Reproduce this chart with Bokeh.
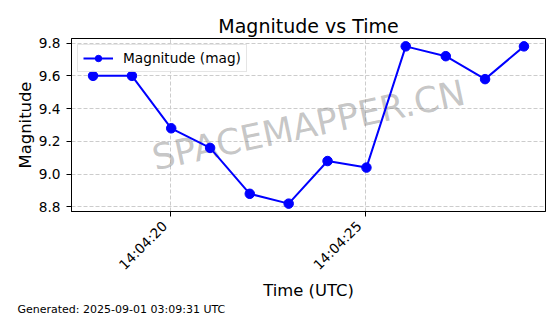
import math
import pandas as pd
from bokeh.plotting import figure
from bokeh.models import (Range1d, FixedTicker, DatetimeTickFormatter, PrintfTickFormatter,
                          Label, Legend, LegendItem, Title)
from bokeh.embed import file_html
from bokeh.resources import INLINE

# ---------------- data ----------------
date = "2025-08-31"
times = ["14:04:18.00", "14:04:19.00", "14:04:20.01", "14:04:21.01", "14:04:22.03", "14:04:23.03",
         "14:04:24.03", "14:04:25.03", "14:04:26.04", "14:04:27.07", "14:04:28.08", "14:04:29.08"]
magnitudes = [9.60, 9.60, 9.28, 9.16, 8.88, 8.82, 9.08, 9.04, 9.78, 9.72, 9.58, 9.78]
x_tick_labels = ["14:04:20", "14:04:25"]
y_ticks = [8.8, 9.0, 9.2, 9.4, 9.6, 9.8]
title_text = "Magnitude vs Time"
x_label = "Time (UTC)"
y_label = "Magnitude"
series_label = "Magnitude (mag)"
watermark = "SPACEMAPPER.CN"
footer = "Generated: 2025-09-01 03:09:31 UTC"

FONT = "DejaVu Sans"


def to_ms(s):
    return pd.Timestamp(f"{date} {s}").value / 1e6


t_ms = [to_ms(s) for s in times]
x_ticks = [to_ms(s) for s in x_tick_labels]

xspan = max(t_ms) - min(t_ms)
yspan = max(magnitudes) - min(magnitudes)
x_range = Range1d(min(t_ms) - 0.05 * xspan, max(t_ms) + 0.05 * xspan)
y_range = Range1d(min(magnitudes) - 0.05 * yspan, max(magnitudes) + 0.05 * yspan)

p = figure(width=560, height=314, x_axis_type="datetime", x_range=x_range, y_range=y_range,
           output_backend="svg", toolbar_location=None, title=title_text,
           min_border_left=71, min_border_right=15, min_border_top=38, min_border_bottom=102)

p.background_fill_color = "white"
p.border_fill_color = "white"
p.outline_line_color = "black"
p.outline_line_width = 1
p.outline_line_alpha = 1

p.title.text_font = FONT
p.title.text_font_size = "19px"
p.title.text_font_style = "normal"
p.title.text_color = "black"
p.title.align = "center"
p.title.standoff = 4

# axes
for ax in (p.xaxis[0], p.yaxis[0]):
    ax.major_label_text_font = FONT
    ax.major_label_text_font_size = "13.7px"
    ax.major_label_text_color = "black"
    ax.axis_label_text_font = FONT
    ax.axis_label_text_font_size = "16.4px"
    ax.axis_label_text_font_style = "normal"
    ax.axis_label_text_color = "black"
    ax.axis_line_color = "black"
    ax.major_tick_line_color = "black"
    ax.major_tick_out = 5
    ax.major_tick_in = 0
    ax.minor_tick_line_color = None

fmt = "%H:%M:%S\u00a0\u00a0"
p.xaxis.ticker = FixedTicker(ticks=x_ticks)
p.xaxis.formatter = DatetimeTickFormatter(milliseconds=fmt, seconds=fmt, minsec=fmt, minutes=fmt,
                                          hourmin=fmt, hours=fmt)
p.xaxis.major_label_orientation = math.pi / 4
p.xaxis.major_label_standoff = 1
p.xaxis.axis_label = x_label
p.xaxis.axis_label_standoff = 0

p.yaxis.ticker = FixedTicker(ticks=y_ticks)
p.yaxis.formatter = PrintfTickFormatter(format="%.1f")
p.yaxis.major_label_standoff = 6
p.yaxis.axis_label = y_label
p.yaxis.axis_label_standoff = 1

for g in (p.xgrid[0], p.ygrid[0]):
    g.grid_line_color = "#cccccc"
    g.grid_line_dash = "4 2"
    g.grid_line_width = 1

# watermark
wm = Label(x=(x_range.start + x_range.end) / 2, y=(y_range.start + y_range.end) / 2,
           text=watermark, angle=12, angle_units="deg", text_align="center",
           text_baseline="middle", text_font=FONT, text_font_size="35.5px",
           text_color="gray", text_alpha=0.45, level="underlay")
p.add_layout(wm)

# series
r_line = p.line(t_ms, magnitudes, line_color="blue", line_width=2)
r_pts = p.scatter(t_ms, magnitudes, size=9.5, fill_color="blue", line_color="blue")

legend = Legend(items=[LegendItem(label=series_label, renderers=[r_line, r_pts])],
                location="top_left")
legend.margin = 6
legend.padding = 5
legend.spacing = 0
legend.glyph_width = 30
legend.glyph_height = 16
legend.label_height = 16
legend.label_standoff = 10
legend.label_text_font = FONT
legend.label_text_font_size = "13.7px"
legend.label_text_color = "black"
legend.border_line_color = "#cccccc"
legend.border_line_width = 1
legend.background_fill_alpha = 0.8
p.add_layout(legend)

# footer text
foot = Title(text=footer, align="left", offset=-54, standoff=-4, vertical_align="middle",
             text_font=FONT, text_font_size="11px", text_font_style="normal", text_color="black")
p.add_layout(foot, "below")

open("out.html", "w").write(file_html(p, INLINE))
